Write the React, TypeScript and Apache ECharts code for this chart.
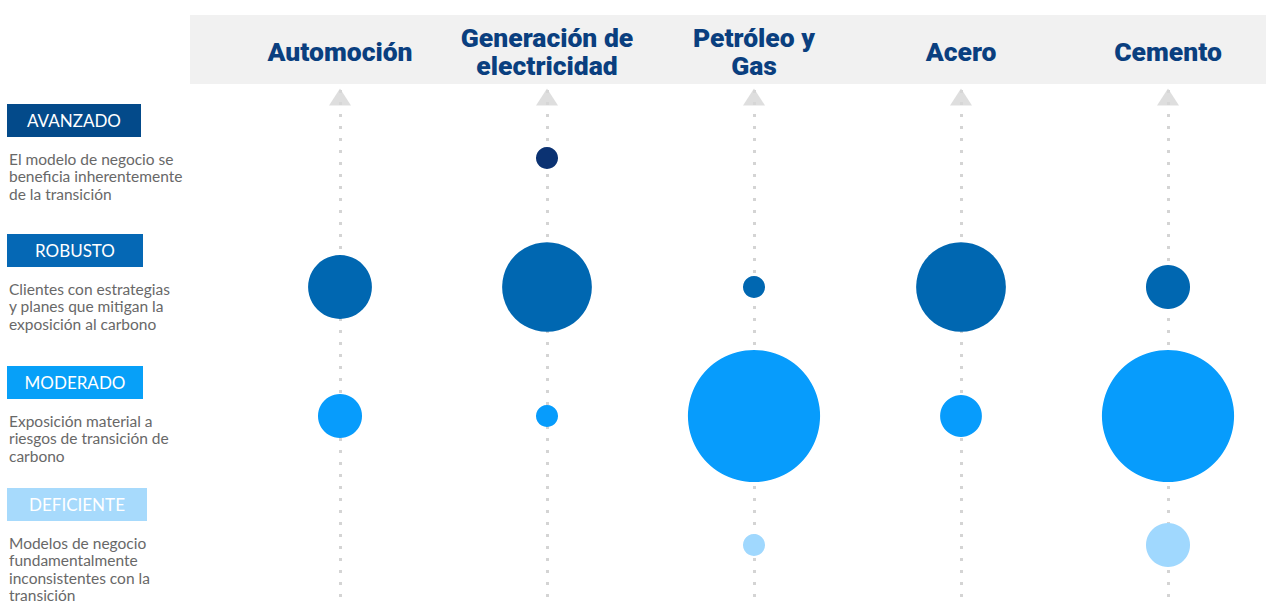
import React, { useEffect, useRef } from "react";
import * as echarts from "echarts";

const sectors = ["Automoción", "Generación de\nelectricidad", "Petróleo y\nGas", "Acero", "Cemento"];
const levels = ["DEFICIENTE", "MODERADO", "ROBUSTO", "AVANZADO"];
const levelDescriptions = [
  "Modelos de negocio\nfundamentalmente\ninconsistentes con la\ntransición",
  "Exposición material a\nriesgos de transición de\ncarbono",
  "Clientes con estrategias\ny planes que mitigan la\nexposición al carbono",
  "El modelo de negocio se\nbeneficia inherentemente\nde la transición",
];
// exposure per sector (relative units), null = none
const deficiente: (number | null)[] = [null, null, 5, null, 20];
const moderado: (number | null)[] = [20, 5, 180, 18, 180];
const robusto: (number | null)[] = [42, 83, 5, 83, 20];
const avanzado: (number | null)[] = [null, 5, null, null, null];

const levelSeries = [deficiente, moderado, robusto, avanzado];
const levelColors = ["#a0d8fe", "#079cfc", "#0067b1", "#0b3272"];
const boxColors = ["#a7dafc", "#07a0f8", "#0568b5", "#034a8a"];

export default function App() {
  const ref = useRef<HTMLDivElement>(null);
  useEffect(() => {
    if (!ref.current) return;
    const chart = echarts.init(ref.current, null, { renderer: "svg" });
    const pxPerLevel = 129;
    const gridTop = 90;
    const row0 = 545; // y of level 0
    const yMax = 3 + (row0 - 3 * pxPerLevel - gridTop) / pxPerLevel;
    const yMin = -(601 - row0) / pxPerLevel;
    const triY = 3 + (row0 - 3 * pxPerLevel - 97) / pxPerLevel;
    const sizeScale = (v: number) => 9.85 * Math.sqrt(v);

    const boxTops = [488, 366, 234, 104];
    const boxWidths = [140, 136, 136, 134];
    const graphics: any[] = [
      { type: "rect", z: -10, shape: { x: 190, y: 15, width: 1076, height: 69 }, style: { fill: "#f1f1f1" } },
    ];
    levels.forEach((lv, i) => {
      const top = boxTops[i];
      graphics.push({
        type: "rect",
        shape: { x: 7, y: top, width: boxWidths[i], height: 33 },
        style: { fill: boxColors[i] },
      });
      graphics.push({
        type: "text",
        x: 7 + boxWidths[i] / 2,
        y: top + 16.5,
        style: {
          text: lv,
          fill: "#ffffff",
          font: "17px Lato",
          align: "center",
          verticalAlign: "middle",
        },
      });
      graphics.push({
        type: "text",
        x: 9,
        y: top + 46,
        style: {
          text: levelDescriptions[i],
          fill: "#686868",
          font: "15.5px Lato",
          lineHeight: 17.5,
          align: "left",
          verticalAlign: "top",
        },
      });
    });

    const bubbleSeries = levelSeries.map((vals, li) => ({
      type: "scatter",
      name: levels[li],
      symbolSize: (d: number[]) => sizeScale(d[2]),
      itemStyle: { color: levelColors[li], opacity: 1 },
      data: vals
        .map((v, si) => (v == null ? null : [si, li, v]))
        .filter((d) => d !== null),
      z: 3,
      clip: false,
    }));

    chart.setOption({
      animation: false,
      backgroundColor: "#ffffff",
      graphic: graphics,
      grid: { left: 340, right: 98, top: gridTop, bottom: 0 },
      xAxis: {
        type: "category",
        data: sectors,
        boundaryGap: false,
        position: "top",
        axisLine: { show: false },
        axisTick: { show: false },
        axisLabel: {
          margin: 39,
          color: "#0a3f7f",
          fontFamily: "Roboto",
          fontWeight: 900,
          fontSize: 26.5,
          lineHeight: 28,
          verticalAlign: "middle",
          align: "center",
          interval: 0,
        },
        splitLine: {
          show: true,
          lineStyle: { color: "#d4d4d4", width: 3, type: [3, 9] },
        },
      },
      yAxis: {
        type: "value",
        min: yMin,
        max: yMax,
        show: false,
        splitLine: { show: false },
      },
      series: [
        {
          type: "scatter",
          symbol: "triangle",
          symbolSize: [22, 17],
          itemStyle: { color: "#d6d6d6" },
          data: sectors.map((_, i) => [i, triY]),
          silent: true,
          clip: false,
          z: 2,
        },
        ...bubbleSeries,
      ],
    });
    return () => chart.dispose();
  }, []);
  return (
    <div
      ref={ref}
      style={{ position: "fixed", left: 0, top: 0, width: 1266, height: 601 }}
    />
  );
}
